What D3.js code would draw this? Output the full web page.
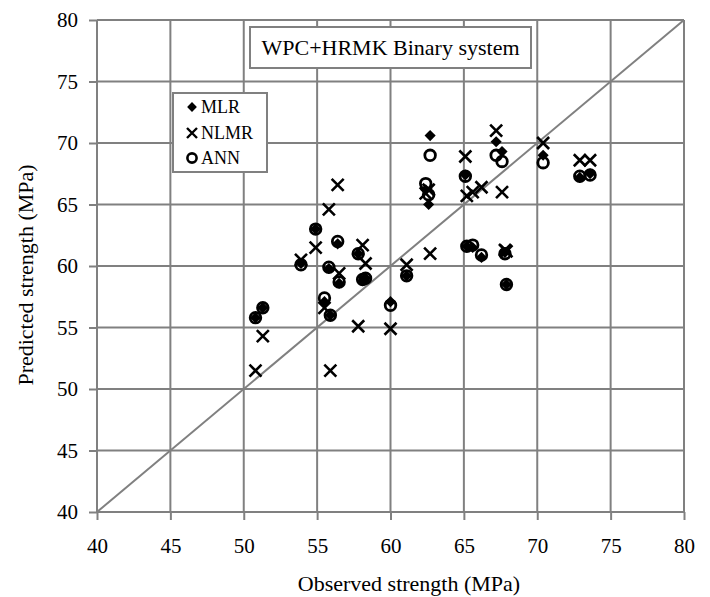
<!DOCTYPE html>
<html>
<head>
<meta charset="utf-8">
<script src="https://cdn.jsdelivr.net/npm/d3@7"></script>
<style>
  body { margin: 0; background: #fff; }
  svg { display: block; font-family: "Liberation Serif", "Times New Roman", serif; }
</style>
</head>
<body>
<script>
// observed strength (MPa) of each mix
const observed = [50.8, 51.3, 53.9, 54.9, 55.5, 55.8, 55.9, 56.4, 56.5, 57.8,
                  58.1, 58.3, 60.0, 61.1, 62.4, 62.6, 62.7, 65.1, 65.2, 65.6,
                  66.2, 67.2, 67.6, 67.8, 67.9, 70.4, 72.9, 73.6];
// predicted strength (MPa) per model
const mlr  = [55.8, 56.6, 60.2, 63.0, 57.1, 59.8, 56.0, 61.8, 58.6, 61.0,
              58.8, 59.0, 57.1, 59.2, 66.2, 65.0, 70.6, 67.4, 61.6, 61.5,
              60.7, 70.1, 69.3, 61.1, 58.5, 69.0, 67.2, 67.5];
const nlmr = [51.5, 54.3, 60.5, 61.5, 56.6, 64.6, 51.5, 66.6, 59.4, 55.1,
              61.7, 60.2, 54.9, 60.1, 65.9, 66.2, 61.0, 68.9, 65.7, 66.0,
              66.4, 71.0, 66.0, 61.3, 61.2, 70.0, 68.6, 68.6];
const ann  = [55.8, 56.6, 60.1, 63.0, 57.4, 59.9, 56.0, 62.0, 58.7, 61.0,
              58.9, 59.0, 56.8, 59.2, 66.7, 65.8, 69.0, 67.3, 61.6, 61.7,
              60.9, 69.0, 68.5, 61.0, 58.5, 68.4, 67.3, 67.4];
const ticks = [40, 45, 50, 55, 60, 65, 70, 75, 80];
const legendLabels = ["MLR", "NLMR", "ANN"];

const w = 710, h = 597;
const margin = { top: 20, right: 26, bottom: 85, left: 97 };
const gridColor = "#808080";

const svg = d3.select("body").append("svg")
    .attr("width", w)
    .attr("height", h);

const x = d3.scaleLinear().domain([40, 80]).range([margin.left, w - margin.right]);
const y = d3.scaleLinear().domain([40, 80]).range([h - margin.bottom, margin.top]);

// Grid
svg.append("g").selectAll("line")
    .data(ticks)
    .enter().append("line")
    .attr("x1", d => x(d)).attr("x2", d => x(d))
    .attr("y1", y(80)).attr("y2", y(40))
    .attr("stroke", gridColor).attr("stroke-width", 2);

svg.append("g").selectAll("line")
    .data(ticks)
    .enter().append("line")
    .attr("x1", x(40)).attr("x2", x(80))
    .attr("y1", d => y(d)).attr("y2", d => y(d))
    .attr("stroke", gridColor).attr("stroke-width", 2);

// Axes
const xAxis = d3.axisBottom(x).tickValues(ticks).tickSize(8);
const yAxis = d3.axisLeft(y).tickValues(ticks).tickSize(8).tickPadding(11);

const gx = svg.append("g")
    .attr("transform", `translate(0, ${y(40)})`)
    .call(xAxis);
const gy = svg.append("g")
    .attr("transform", `translate(${x(40)}, 0)`)
    .call(yAxis);

[gx, gy].forEach(g => {
    g.select(".domain").remove();
    g.selectAll(".tick line").attr("stroke", gridColor).attr("stroke-width", 2);
    g.selectAll(".tick text")
        .attr("fill", "#000")
        .style("font-family", "Liberation Serif")
        .style("font-size", "21px");
});
gx.selectAll(".tick text").attr("y", 41).attr("dy", 0);
gy.selectAll(".tick text").attr("dy", "0.33em");

// 1:1 line
svg.append("line")
    .attr("x1", x(40)).attr("y1", y(40))
    .attr("x2", x(80)).attr("y2", y(80))
    .attr("stroke", gridColor).attr("stroke-width", 2);

// Axis titles
svg.append("text")
    .attr("x", 409)
    .attr("y", 591)
    .attr("text-anchor", "middle")
    .style("font-size", "22px")
    .text("Observed strength (MPa)");

svg.append("text")
    .attr("transform", `translate(33, 275) rotate(-90)`)
    .attr("text-anchor", "middle")
    .style("font-size", "22px")
    .text("Predicted strength (MPa)");

// Markers
const diamond = d3.symbol().type(d3.symbolSquare).size(62);
const cross = s => `M${-s},${-s}L${s},${s}M${-s},${s}L${s},${-s}`;

const points = observed.map((o, i) => ({ o, mlr: mlr[i], nlmr: nlmr[i], ann: ann[i] }));

svg.append("g").selectAll("path")
    .data(points)
    .enter().append("path")
    .attr("d", diamond)
    .attr("transform", d => `translate(${x(d.o)}, ${y(d.mlr)}) rotate(45)`)
    .attr("fill", "#000");

svg.append("g").selectAll("path")
    .data(points)
    .enter().append("path")
    .attr("d", cross(6))
    .attr("transform", d => `translate(${x(d.o)}, ${y(d.nlmr)})`)
    .attr("stroke", "#000").attr("stroke-width", 2.6).attr("fill", "none");

svg.append("g").selectAll("circle")
    .data(points)
    .enter().append("circle")
    .attr("cx", d => x(d.o))
    .attr("cy", d => y(d.ann))
    .attr("r", 5.3)
    .attr("stroke", "#000").attr("stroke-width", 2.8).attr("fill", "none");

// Title box
const titleBox = svg.append("g");
titleBox.append("rect")
    .attr("x", 250).attr("y", 27)
    .attr("width", 281).attr("height", 41)
    .attr("fill", "#fff").attr("stroke", gridColor).attr("stroke-width", 2);
titleBox.append("text")
    .attr("x", 390.5).attr("y", 55)
    .attr("text-anchor", "middle")
    .style("font-size", "22px")
    .text("WPC+HRMK Binary system");

// Legend
const legend = svg.append("g").attr("transform", "translate(173, 93)");
legend.append("rect")
    .attr("width", 94).attr("height", 79)
    .attr("fill", "#fff").attr("stroke", gridColor).attr("stroke-width", 2);

const rowY = [14, 40, 65];
const lx = 19;
legend.append("path")
    .attr("d", d3.symbol().type(d3.symbolSquare).size(48))
    .attr("transform", `translate(${lx}, ${rowY[0]}) rotate(45)`)
    .attr("fill", "#000");
legend.append("path")
    .attr("d", cross(5))
    .attr("transform", `translate(${lx}, ${rowY[1]})`)
    .attr("stroke", "#000").attr("stroke-width", 2.4).attr("fill", "none");
legend.append("circle")
    .attr("cx", lx).attr("cy", rowY[2]).attr("r", 4.6)
    .attr("stroke", "#000").attr("stroke-width", 2.6).attr("fill", "none");

legend.selectAll("text")
    .data(legendLabels)
    .enter().append("text")
    .attr("x", 28)
    .attr("y", (d, i) => rowY[i] + 6)
    .style("font-size", "18px")
    .text(d => d);
</script>
</body>
</html>
